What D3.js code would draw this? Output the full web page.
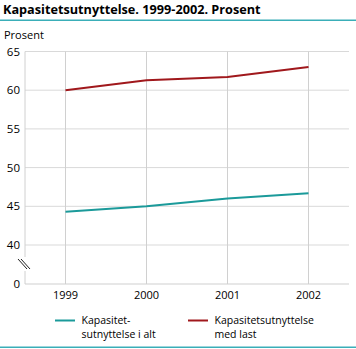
<!DOCTYPE html>
<html><head><meta charset="utf-8">
<script src="https://cdn.jsdelivr.net/npm/d3@7"></script>
<style>body{margin:0;background:#fff;}svg{display:block;font-family:"Open Sans","Noto Sans",sans-serif;}</style>
</head><body>
<script>
const years = ["1999","2000","2001","2002"];
const iAlt = [44.3, 45.0, 46.0, 46.7];
const medLast = [60.0, 61.3, 61.7, 63.0];
const yTicks = [0, 40, 45, 50, 55, 60, 65];
const seriesNames = [["Kapasitet-","sutnyttelse i alt"],["Kapasitetsutnyttelse","med last"]];
const colors = ["#1b9a9a","#a0181c"];

const W=356,H=349;
const svg=d3.select("body").append("svg").attr("width",W).attr("height",H);
const left=25,right=349;
const x=d3.scalePoint().domain(years).range([left,right]).padding(0.5);
const y=d3.scaleLinear().domain([0,40,65]).range([284,245,51.5]);

svg.append("text").attr("x",3).attr("y",14).attr("font-size",12.7).attr("font-weight","bold").attr("fill","#000")
  .text("Kapasitetsutnyttelse. 1999-2002. Prosent");
svg.append("rect").attr("x",0).attr("y",19.5).attr("width",W).attr("height",1.5).attr("fill","#3aaeb8");
svg.append("text").attr("x",4).attr("y",39).attr("font-size",11).attr("fill","#000").text("Prosent");

const g=svg.append("g");
g.selectAll(".hg").data(yTicks.filter(d=>d>0)).join("line")
  .attr("x1",left).attr("x2",right).attr("y1",d=>y(d)).attr("y2",d=>y(d))
  .attr("stroke","#d9d9d9").attr("stroke-width",1);
g.selectAll(".vg").data(years).join("line")
  .attr("x1",d=>x(d)).attr("x2",d=>x(d)).attr("y1",y(65)).attr("y2",y(0))
  .attr("stroke","#d0d0d0").attr("stroke-width",1);
g.append("line").attr("x1",left).attr("x2",right).attr("y1",y(0)).attr("y2",y(0)).attr("stroke","#cfcfcf").attr("stroke-width",1.2);
g.append("line").attr("x1",left).attr("x2",left).attr("y1",y(65)).attr("y2",257).attr("stroke","#d0d0d0");
g.append("line").attr("x1",left).attr("x2",left).attr("y1",271).attr("y2",y(0)).attr("stroke","#d0d0d0");
[0,3].forEach(o=>{
  g.append("line").attr("x1",18+o).attr("y1",259).attr("x2",27+o).attr("y2",269).attr("stroke","#222").attr("stroke-width",1);
});

svg.selectAll(".yl").data(yTicks).join("text")
  .attr("x",20).attr("y",d=>y(d)+4).attr("text-anchor","end").attr("font-size",11.5).attr("fill","#000").text(d=>d);
svg.selectAll(".xl").data(years).join("text")
  .attr("x",d=>x(d)).attr("y",299).attr("text-anchor","middle").attr("font-size",11).attr("fill","#000").text(d=>d);

const line=d3.line().x((d,i)=>x(years[i])).y(d=>y(d));
[iAlt,medLast].forEach((s,k)=>{
  svg.append("path").attr("d",line(s)).attr("fill","none").attr("stroke",colors[k]).attr("stroke-width",2);
});

const lx=[55,188];
seriesNames.forEach((names,k)=>{
  svg.append("line").attr("x1",lx[k]).attr("x2",lx[k]+20).attr("y1",320.5).attr("y2",320.5).attr("stroke",colors[k]).attr("stroke-width",2);
  const t=svg.append("text").attr("x",lx[k]+26.5).attr("y",323.5).attr("font-size",10.5).attr("fill","#000");
  names.forEach((s,j)=>{
    t.append("tspan").attr("x",lx[k]+26.5).attr("dy",j===0?0:14.3).text(s);
  });
});
svg.append("rect").attr("x",0).attr("y",346.5).attr("width",W).attr("height",1.5).attr("fill","#3aaeb8");
</script>
</body></html>
